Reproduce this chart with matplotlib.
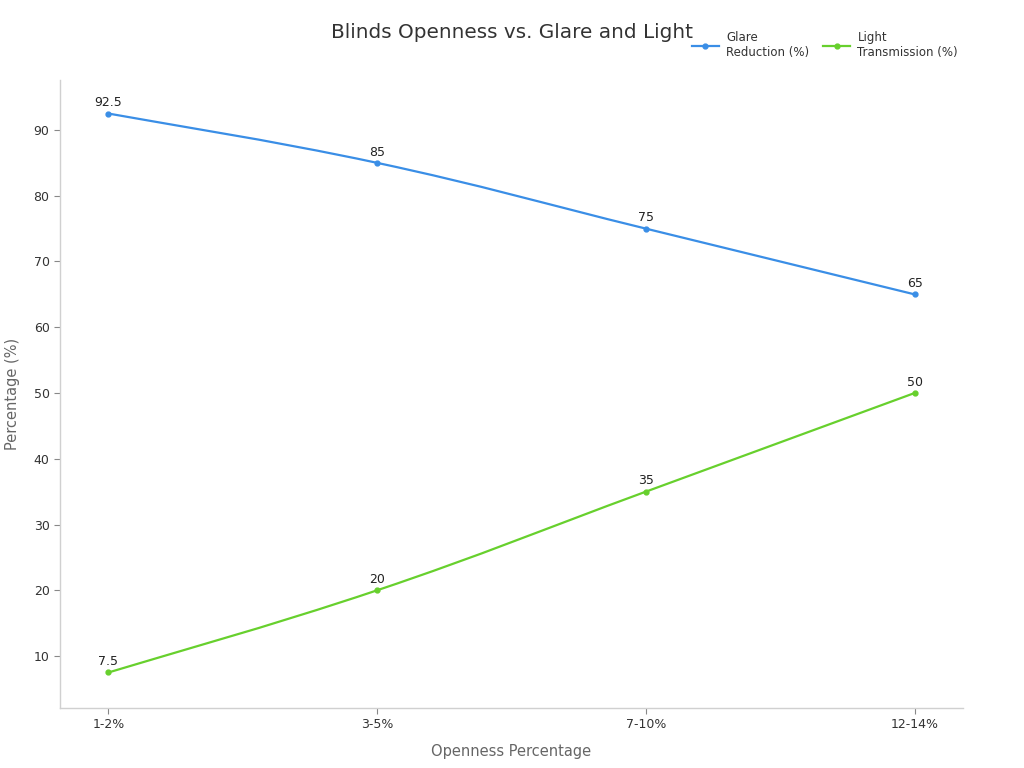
import matplotlib
matplotlib.use("Agg")
import matplotlib.pyplot as plt
from matplotlib.path import Path
from matplotlib.patches import PathPatch
import numpy as np

categories = ["1-2%", "3-5%", "7-10%", "12-14%"]
glare_reduction = [92.5, 85, 75, 65]
light_transmission = [7.5, 20, 35, 50]
series_names = ["Glare\nReduction (%)", "Light\nTransmission (%)"]
colors = ["#3a8ee6", "#67d02d"]

fig = plt.figure(figsize=(10.24, 7.68), dpi=100)
ax = fig.add_axes([60/1024, 1-708/768, (963-60)/1024, (708-80)/768])

def smooth_path(xs, ys, k=0.2):
    xs = np.asarray(xs, float); ys = np.asarray(ys, float)
    verts = [(xs[0], ys[0])]
    codes = [Path.MOVETO]
    n = len(xs)
    for i in range(n - 1):
        p0 = np.array([xs[max(i-1, 0)], ys[max(i-1, 0)]])
        p1 = np.array([xs[i], ys[i]])
        p2 = np.array([xs[i+1], ys[i+1]])
        p3 = np.array([xs[min(i+2, n-1)], ys[min(i+2, n-1)]])
        c1 = p1 + (p2 - p0) * k
        c2 = p2 - (p3 - p1) * k
        verts += [tuple(c1), tuple(c2), tuple(p2)]
        codes += [Path.CURVE4] * 3
    return Path(verts, codes)

x = np.arange(len(categories))
for vals, name, c in zip([glare_reduction, light_transmission], series_names, colors):
    patch = PathPatch(smooth_path(x, vals), facecolor="none", edgecolor=c, lw=1.6, zorder=2)
    ax.add_patch(patch)
    ax.plot(x, vals, ls="none", marker="o", ms=3.5, color=c, zorder=3)
    ax.plot([], [], color=c, lw=1.6, marker="o", ms=3.5, label=name)
    for xi, v in zip(x, vals):
        ax.annotate(f"{v:g}", (xi, v), xytext=(0, 3), textcoords="offset points",
                    ha="center", va="bottom", fontsize=9, color="#222222")

ax.set_xlim(-0.18, 3.18)
ax.set_ylim(2.1, 97.6)
ax.set_xticks(x)
ax.set_xticklabels(categories)
ax.set_yticks([10, 20, 30, 40, 50, 60, 70, 80, 90])
for s in ["top", "right"]:
    ax.spines[s].set_visible(False)
for s in ["left", "bottom"]:
    ax.spines[s].set_color("#d0d0d0")
    ax.spines[s].set_linewidth(1.0)
ax.tick_params(axis="both", colors="#888888", labelcolor="#333333", labelsize=9, length=4, width=0.8)
ax.set_xlabel("Openness Percentage", fontsize=10.5, color="#666666", labelpad=9)
ax.set_ylabel("Percentage (%)", fontsize=10.5, color="#666666", labelpad=10)

fig.text(0.5, 1-33/768, "Blinds Openness vs. Glare and Light", ha="center", va="center",
         fontsize=14.4, color="#333333")
fig.legend(loc="center right", bbox_to_anchor=(0.946, 1-45/768), ncol=2, frameon=False,
           fontsize=8.5, handlelength=2.3, columnspacing=1.2, handletextpad=0.6,
           labelcolor="#333333")

fig.savefig("out.png", dpi=100)
